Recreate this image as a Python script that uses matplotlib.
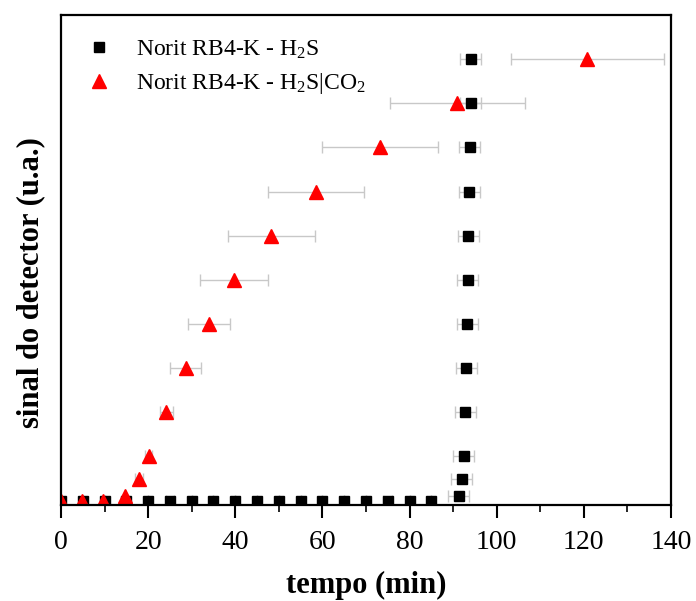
import matplotlib.pyplot as plt
from matplotlib.ticker import MultipleLocator

plt.rcParams['font.family'] = ['Liberation Serif', 'DejaVu Serif']
plt.rcParams['mathtext.fontset'] = 'custom'
plt.rcParams['mathtext.rm'] = 'Liberation Serif'
plt.rcParams['mathtext.it'] = 'Liberation Serif:italic'

# Norit RB4-K - H2S
t_h2s = [0, 5, 10, 15, 20, 25, 30, 35, 40, 45, 50, 55, 60, 65, 70, 75, 80, 85,
         91.3, 92.0, 92.4, 92.8, 93.0, 93.3, 93.4, 93.5, 93.7, 93.8, 94.0, 94.0]
s_h2s = [0, 0, 0, 0, 0, 0, 0, 0, 0, 0, 0, 0, 0, 0, 0, 0, 0, 0,
         0.1, 0.5, 1, 2, 3, 4, 5, 6, 7, 8, 9, 10]
err_h2s = [0, 0, 0, 0, 0, 1.0, 0, 0, 0, 0, 0, 0, 0, 0, 0, 1.0, 0, 0,
           2.4, 2.4, 2.4, 2.4, 2.4, 2.4, 2.4, 2.4, 2.4, 2.4, 2.4, 2.4]

# Norit RB4-K - H2S|CO2
t_mix = [0, 4.9, 9.7, 14.7, 17.9, 20.2, 24.2, 28.6, 34.0, 39.8, 48.3, 58.5, 73.3, 91.0, 120.8]
s_mix = [0, 0, 0, 0.1, 0.5, 1, 2, 3, 4, 5, 6, 7, 8, 9, 10]
err_mix = [0, 0, 0, 0, 0.9, 0.8, 1.5, 3.5, 4.8, 7.8, 9.9, 11.0, 13.3, 15.5, 17.5]

fig = plt.figure(figsize=(6.96, 6.01), dpi=100)
ax = fig.add_axes([0.0876, 0.1597, 0.8764, 0.8153])

ax.errorbar(t_h2s, s_h2s, xerr=err_h2s, fmt='s', color='black', ms=7.5,
            ecolor='#c8c8c8', elinewidth=1, capsize=4.5, capthick=1,
            label='Norit RB4-K - H$_2$S')
ax.errorbar(t_mix, s_mix, xerr=err_mix, fmt='^', color='red', ms=10,
            ecolor='#c8c8c8', elinewidth=1, capsize=4.5, capthick=1,
            label='Norit RB4-K - H$_2$S|CO$_2$')

ax.set_xlim(0, 140)
ax.set_ylim(-0.1, 11.0)
ax.xaxis.set_major_locator(MultipleLocator(20))
ax.xaxis.set_minor_locator(MultipleLocator(10))
ax.tick_params(axis='x', which='major', direction='out', length=9, width=1.5,
               labelsize=20, pad=9)
ax.tick_params(axis='x', which='minor', direction='out', length=5, width=1.2)
ax.set_yticks([])
for sp in ax.spines.values():
    sp.set_linewidth(1.6)

ax.set_xlabel('tempo (min)', fontsize=22, fontweight='bold')
ax.xaxis.set_label_coords(0.5, -0.135)
ax.set_ylabel('sinal do detector (u.a.)', fontsize=22, fontweight='bold')
ax.yaxis.set_label_coords(-0.026, 0.455)

h, l = ax.get_legend_handles_labels()
h = [x[0] for x in h]
ax.legend(h, l, loc='upper left', bbox_to_anchor=(0.005, 0.995), frameon=False,
          fontsize=17, handletextpad=0.95, labelspacing=0.42, handlelength=1.2)

plt.savefig('out.png', dpi=100)
